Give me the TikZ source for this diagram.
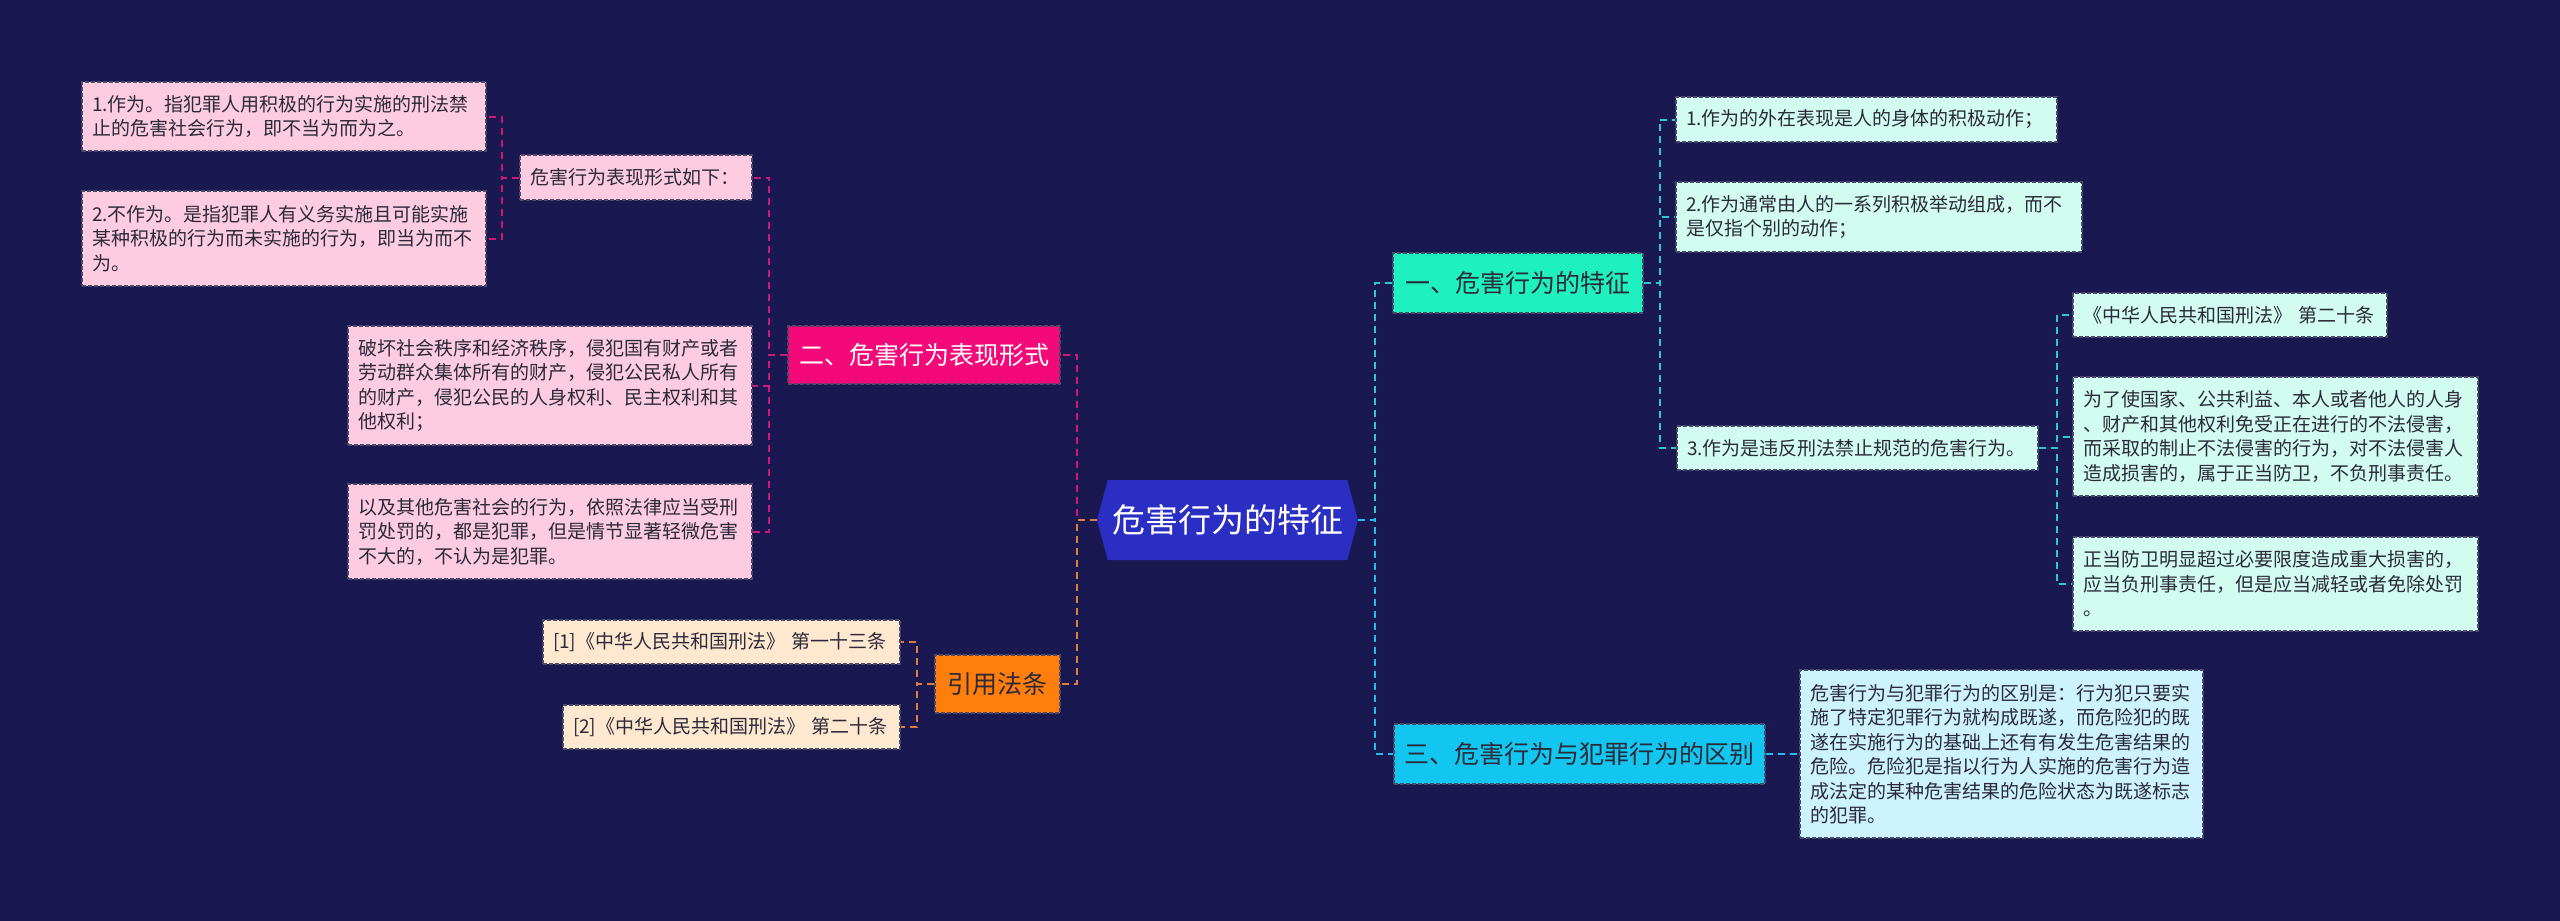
\documentclass[tikz,border=0pt]{standalone}
\usepackage{fontspec}
\setmainfont{Noto Sans CJK SC}
\usetikzlibrary{shapes.symbols}
\definecolor{MapBg}{HTML}{1A1850}
\definecolor{RootBlue}{HTML}{2B2EC3}
\definecolor{Mint}{HTML}{1EF0C0}
\definecolor{MintLight}{HTML}{D2FCEF}
\definecolor{MintLine}{HTML}{2CC8D4}
\definecolor{Sky}{HTML}{12C6F0}
\definecolor{SkyLight}{HTML}{CDF3FF}
\definecolor{SkyLine}{HTML}{1EBFEE}
\definecolor{Rose}{HTML}{F30A78}
\definecolor{RoseLight}{HTML}{FDCCE0}
\definecolor{RoseLine}{HTML}{D2157A}
\definecolor{Amber}{HTML}{FF7E0C}
\definecolor{AmberLight}{HTML}{FFE8D0}
\definecolor{AmberLine}{HTML}{E07C3C}
\definecolor{InkDark}{HTML}{2A2A3A}
\definecolor{BoxEdge}{HTML}{4A4A6A}
\tikzset{
  edge dash/.style={draw=BoxEdge,dash pattern=on 2pt off 1pt,line width=0.6pt},
  root node/.style={signal,signal to=east and west,signal pointer angle=150,
    fill=RootBlue,text=white,minimum width=130.5pt,minimum height=40pt,inner sep=0pt,
    font=\fontsize{16.5pt}{19pt}\selectfont},
  main node/.style={edge dash,fill=#1,text=InkDark,inner sep=0pt,align=center,
    minimum height=30pt,font=\fontsize{12.5pt}{15pt}\selectfont},
  leaf node/.style={edge dash,fill=#1,text=InkDark,inner xsep=5pt,inner ysep=2pt,
    align=left,font=\fontsize{9.5pt}{12.25pt}\selectfont},
  link/.style={draw=#1,line width=1pt,dash pattern=on 3.5pt off 2.5pt}
}

\begin{document}
\begin{tikzpicture}[x=0.5pt,y=-0.5pt]
  \useasboundingbox (0,0) rectangle (2560,921);
  \fill[MapBg] (0,0) rectangle (2560,921);
  \node[root node] (root) at (1227.5,520) {危害行为的特征};
  \node[main node=Mint,minimum width=125pt] (A1) at (1518,283) {一、危害行为的特征};
  \node[main node=Sky,minimum width=185.5pt] (A3) at (1579.5,754) {三、危害行为与犯罪行为的区别};
  \node[main node=Rose,text=white,minimum width=136pt,minimum height=29pt] (B2) at (924,355) {二、危害行为表现形式};
  \node[main node=Amber,minimum width=62.5pt,minimum height=29pt] (B4) at (997.5,684) {引用法条};
  \node[leaf node=MintLight,text width=180.5pt,minimum height=22.5pt] (a11) at (1866.5,119.5) {1.作为的外在表现是人的身体的积极动作；};
  \node[leaf node=MintLight,text width=193pt,minimum height=35pt] (a12) at (1879,217) {2.作为通常由人的一系列积极举动组成，而不\\是仅指个别的动作；};
  \node[leaf node=MintLight,text width=170.5pt,minimum height=22pt] (a13) at (1857.5,448) {3.作为是违反刑法禁止规范的危害行为。};
  \node[leaf node=MintLight,text width=147pt,minimum height=22pt] (a131) at (2230,315) {《中华人民共和国刑法》 第二十条};
  \node[leaf node=MintLight,text width=192.5pt,minimum height=59.5pt] (a132) at (2275.5,436.5) {为了使国家、公共利益、本人或者他人的人身\\、财产和其他权利免受正在进行的不法侵害，\\而采取的制止不法侵害的行为，对不法侵害人\\造成损害的，属于正当防卫，不负刑事责任。};
  \node[leaf node=MintLight,text width=192.5pt,minimum height=47pt] (a133) at (2275.5,584) {正当防卫明显超过必要限度造成重大损害的，\\应当负刑事责任，但是应当减轻或者免除处罚\\。};
  \node[leaf node=SkyLight,text width=191.5pt,minimum height=84pt] (a31) at (2001.5,754) {危害行为与犯罪行为的区别是：行为犯只要实\\施了特定犯罪行为就构成既遂，而危险犯的既\\遂在实施行为的基础上还有有发生危害结果的\\危险。危险犯是指以行为人实施的危害行为造\\成法定的某种危害结果的危险状态为既遂标志\\的犯罪。};
  \node[leaf node=RoseLight,text width=106pt,minimum height=22.5pt] (b21) at (636,177.5) {危害行为表现形式如下：};
  \node[leaf node=RoseLight,text width=192pt,minimum height=34.5pt] (b211) at (284,116.5) {1.作为。指犯罪人用积极的行为实施的刑法禁\\止的危害社会行为，即不当为而为之。};
  \node[leaf node=RoseLight,text width=192pt,minimum height=47.5pt] (b212) at (284,238.5) {2.不作为。是指犯罪人有义务实施且可能实施\\某种积极的行为而未实施的行为，即当为而不\\为。};
  \node[leaf node=RoseLight,text width=192pt,minimum height=59.5pt] (b22) at (550,385.5) {破坏社会秩序和经济秩序，侵犯国有财产或者\\劳动群众集体所有的财产，侵犯公民私人所有\\的财产，侵犯公民的人身权利、民主权利和其\\他权利；};
  \node[leaf node=RoseLight,text width=192pt,minimum height=47.5pt] (b23) at (550,531.5) {以及其他危害社会的行为，依照法律应当受刑\\罚处罚的，都是犯罪，但是情节显著轻微危害\\不大的，不认为是犯罪。};
  \node[leaf node=AmberLight,text width=168.5pt,minimum height=22pt] (b41) at (721.5,642) {[1]《中华人民共和国刑法》 第一十三条};
  \node[leaf node=AmberLight,text width=158.5pt,minimum height=22pt] (b42) at (731.5,727) {[2]《中华人民共和国刑法》 第二十条};
  \draw[link=MintLine] (root.east) -- ++(17,0) |- (A1.west);
  \draw[link=SkyLine] (root.east) -- ++(17,0) |- (A3.west);
  \draw[link=MintLine] (A1.east) -- ++(16,0) |- (a11.west);
  \draw[link=MintLine] (A1.east) -- ++(16,0) |- (a12.west);
  \draw[link=MintLine] (A1.east) -- ++(16,0) |- (a13.west);
  \draw[link=MintLine] (a13.east) -- ++(18,0) |- (a131.west);
  \draw[link=MintLine] (a13.east) -- ++(18,0) |- (a132.west);
  \draw[link=MintLine] (a13.east) -- ++(18,0) |- (a133.west);
  \draw[link=SkyLine] (A3.east) -- (a31.west);
  \draw[link=RoseLine] (root.west) -- ++(-20,0) |- (B2.east);
  \draw[link=AmberLine] (root.west) -- ++(-20,0) |- (B4.east);
  \draw[link=RoseLine] (B2.west) -- ++(-18,0) |- (b21.east);
  \draw[link=RoseLine] (B2.west) -- ++(-18,0) |- (b22.east);
  \draw[link=RoseLine] (B2.west) -- ++(-18,0) |- (b23.east);
  \draw[link=RoseLine] (b21.west) -- ++(-17,0) |- (b211.east);
  \draw[link=RoseLine] (b21.west) -- ++(-17,0) |- (b212.east);
  \draw[link=AmberLine] (B4.west) -- ++(-17,0) |- (b41.east);
  \draw[link=AmberLine] (B4.west) -- ++(-17,0) |- (b42.east);
\end{tikzpicture}
\end{document}
